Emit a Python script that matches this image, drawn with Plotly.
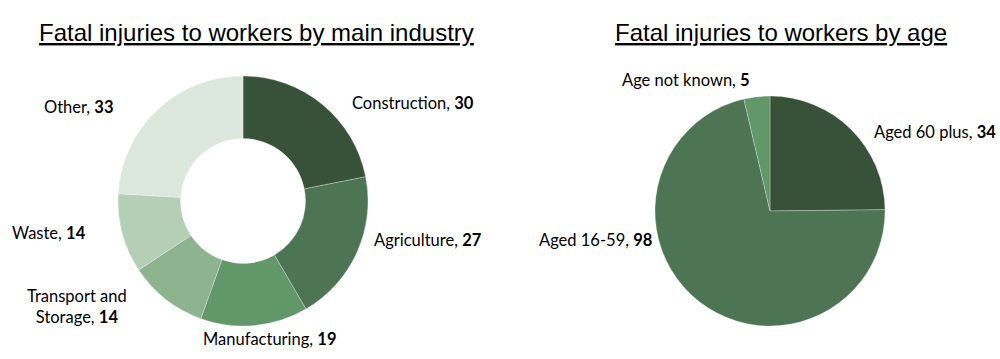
import plotly.graph_objects as go

industry_labels = ["Construction", "Agriculture", "Manufacturing", "Transport and Storage", "Waste", "Other"]
industry_values = [30, 27, 19, 14, 14, 33]
industry_colors = ["#375239", "#4d7553", "#62976a", "#8db38f", "#b5cfb7", "#dce8de"]

age_labels = ["Aged 60 plus", "Aged 16-59", "Age not known"]
age_values = [34, 98, 5]
age_colors = ["#375239", "#4d7553", "#62976a"]

W, H = 1000, 359
LABEL_FONT = dict(family="Lato, 'Open Sans', sans-serif", size=16.5, color="#000000")
TITLE_FONT = dict(family="'Liberation Sans', Arial, sans-serif", size=24, color="#000000")

fig = go.Figure()

def dom(cx, cy, r):
    return dict(x=[(cx - r) / W, (cx + r) / W], y=[(H - cy - r) / H, (H - cy + r) / H])

fig.add_trace(go.Pie(
    labels=industry_labels, values=industry_values, hole=0.5, sort=False,
    direction="clockwise", rotation=0, textinfo="none", hoverinfo="label+value",
    marker=dict(colors=industry_colors, line=dict(color="#f4f7f4", width=0.3)),
    domain=dom(243, 201, 125), showlegend=False,
))
fig.add_trace(go.Pie(
    labels=age_labels, values=age_values, sort=False,
    direction="clockwise", rotation=0, textinfo="none", hoverinfo="label+value",
    marker=dict(colors=age_colors, line=dict(color="#f4f7f4", width=0.3)),
    domain=dom(770, 211, 115), showlegend=False,
))

def px(x, y):
    return x / W, 1 - y / H

annotations = []
for text, x in [("Fatal injuries to workers by main industry", 256), ("Fatal injuries to workers by age", 781)]:
    ax, ay = px(x, 33)
    annotations.append(dict(text="<u>" + text + "</u>", x=ax, y=ay, xref="paper", yref="paper",
                            xanchor="center", yanchor="middle", showarrow=False, font=TITLE_FONT))

ind_pos = [(350, 103, "left"), (372, 240, "left"), (201, 339, "left"),
           (77, 306, "center"), (88, 233, "right"), (115, 107, "right")]
ind_text = {"Transport and Storage": "Transport and<br>Storage"}
for lab, val, (x, y, xa) in zip(industry_labels, industry_values, ind_pos):
    ax, ay = px(x, y)
    annotations.append(dict(text=f"{ind_text.get(lab, lab)}, <b>{val}</b>", x=ax, y=ay,
                            xref="paper", yref="paper", xanchor=xa, yanchor="middle",
                            showarrow=False, font=LABEL_FONT, align="center"))

age_pos = [(872, 132, "left"), (654, 240, "right"), (752, 80, "right")]
for lab, val, (x, y, xa) in zip(age_labels, age_values, age_pos):
    ax, ay = px(x, y)
    annotations.append(dict(text=f"{lab}, <b>{val}</b>", x=ax, y=ay,
                            xref="paper", yref="paper", xanchor=xa, yanchor="middle",
                            showarrow=False, font=LABEL_FONT))

fig.update_layout(
    width=W, height=H, margin=dict(l=0, r=0, t=0, b=0),
    paper_bgcolor="#ffffff", plot_bgcolor="#ffffff",
    annotations=annotations,
)

fig.write_html("out.html", config={"displayModeBar": False},
               post_script="document.body.style.margin='0';document.body.style.overflow='hidden';")
